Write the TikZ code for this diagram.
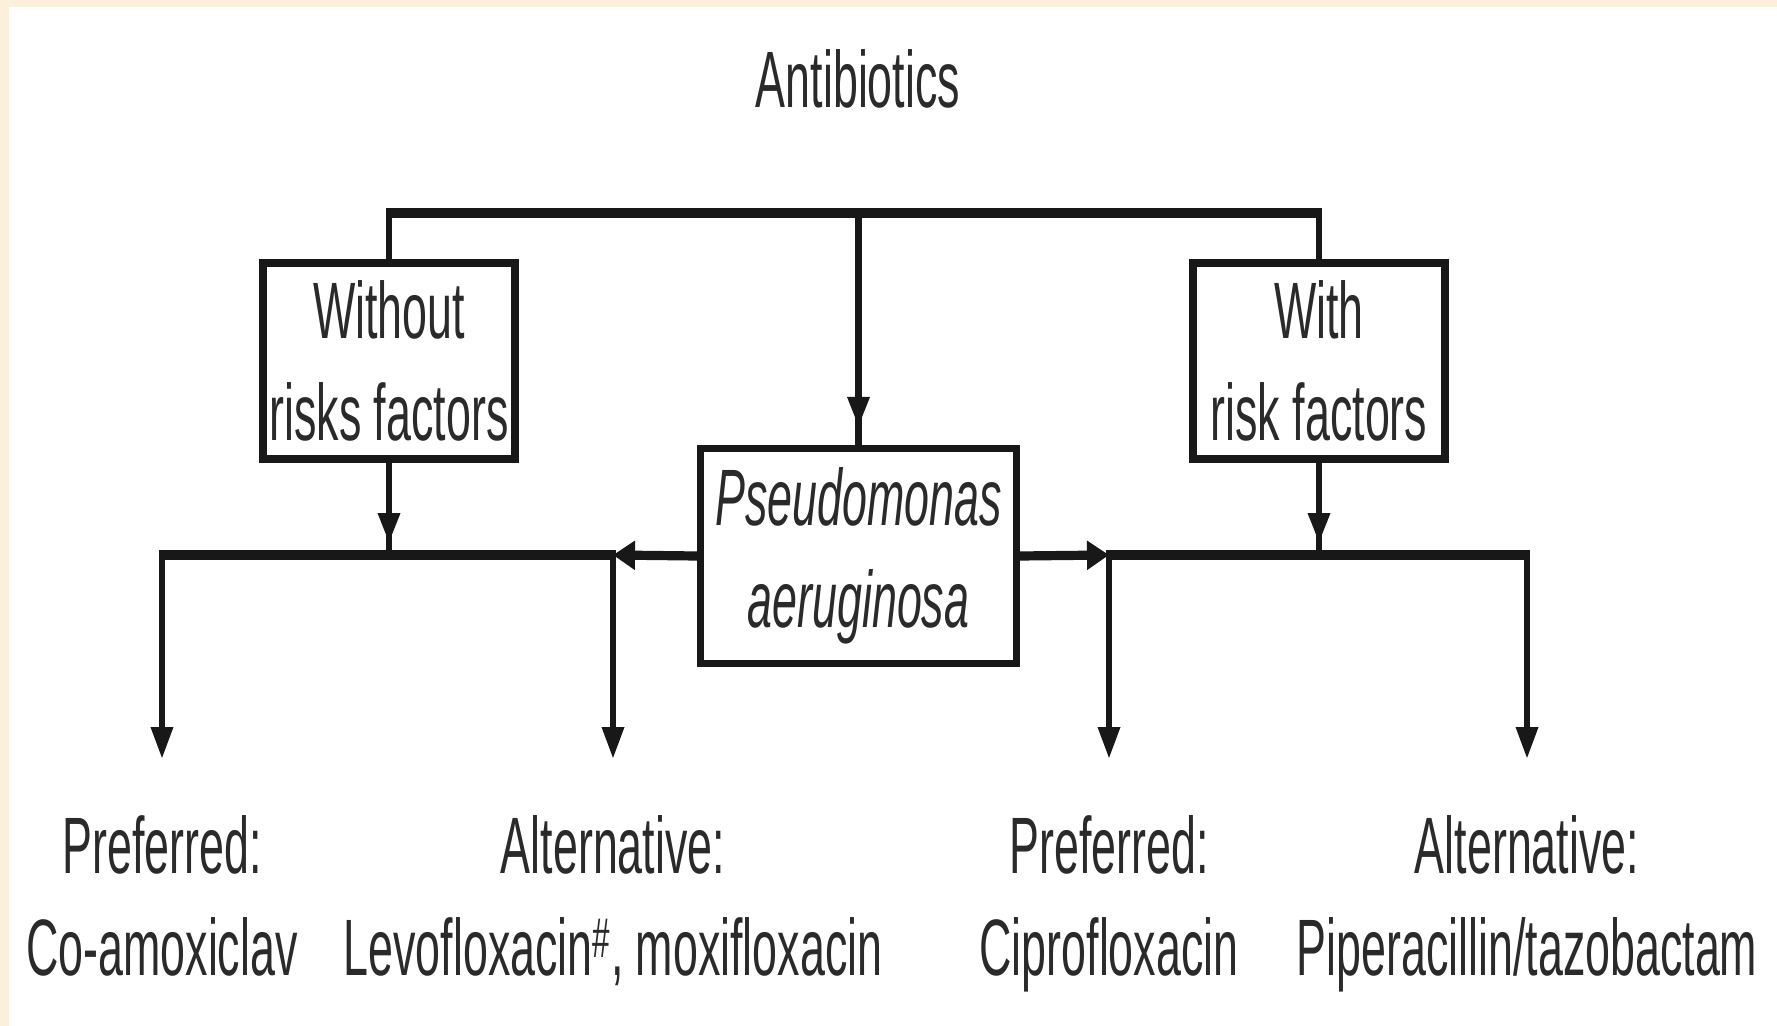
\documentclass[tikz,border=0pt]{standalone}
\usepackage{fontspec}
\setmainfont{Liberation Sans}[FakeStretch=0.56]
\usetikzlibrary{arrows.meta,decorations.markings}

\definecolor{inkline}{RGB}{24,24,24}
\definecolor{inktext}{RGB}{42,42,42}
\definecolor{paper}{RGB}{252,240,220}

\begin{document}
\begin{tikzpicture}[x=0.5pt,y=-0.5pt,
  every node/.style={text=inktext, font=\fontsize{40}{51}\selectfont, inner sep=0pt},
  box/.style={draw=inkline, line width=3.6pt, fill=white, align=center},
  label/.style={anchor=north, align=center},
  hline/.style={draw=inkline, line width=4.6pt, shorten <=-1.6pt, shorten >=-1.6pt},
  vline/.style={draw=inkline, line width=3.2pt},
  harrow/.style={draw=inkline, line width=4.6pt, -{Triangle[length=11pt,width=14pt]}},
  downtip/.style={-{Triangle[length=16pt,width=10.5pt]}, shorten >=28pt},
  tipbefore/.style={postaction={decorate},
    decoration={markings, mark=at position #1 with {\arrow{Triangle[length=15pt,width=10.5pt]}}}},
]
% page and white sheet
\fill[paper] (0,0) rectangle (1777,1026);
\fill[white] (9,7) rectangle (1777,1026);
\useasboundingbox (0,0) rectangle (1777,1026);

% title
\node[anchor=base] (title) at (858,108) {Antibiotics};

% boxes
\node[box, minimum width=126pt, minimum height=98pt] (wo) at (389,361) {Without\\risks factors};
\node[box, minimum width=126pt, minimum height=98pt] (wr) at (1319,361) {With\\risk factors};
\node[box, minimum width=158pt, minimum height=107.5pt,
      font=\fontsize{40}{51}\selectfont\itshape] (pa) at (858.5,556) {Pseudomonas\\aeruginosa};

% outcome labels
\node[label] (p1) at (162,815) {Preferred:\\Co-amoxiclav};
\node[label] (a1) at (613,815) {Alternative:\\Levofloxacin\textsuperscript{\#}, moxifloxacin};
\node[label] (p2) at (1109,815) {Preferred:\\Ciprofloxacin};
\node[label] (a2) at (1527,815) {Alternative:\\Piperacillin/tazobactam};

% branch points
\coordinate (tl) at (389,213);
\coordinate (tm) at (858.5,213);
\coordinate (tr) at (1319,213);
\coordinate (jl) at (389,555);
\coordinate (jr) at (1319,555);
\coordinate (dl1) at (162,555);
\coordinate (dl2) at (613,555);
\coordinate (dr1) at (1109,555);
\coordinate (dr2) at (1527,555);

% upper bracket
\draw[hline] (tl) -- (tr);
\draw[vline] (tl) -- (wo.north);
\draw[vline] (tr) -- (wr.north);
\draw[vline, tipbefore=-9pt] (tm) -- (pa.north);

% boxes into the lower rails
\draw[vline, tipbefore=-6pt] (wo.south) -- (jl);
\draw[vline, tipbefore=-6pt] (wr.south) -- (jr);

% lower rails
\draw[hline] (dl1) -- (dl2);
\draw[harrow] (pa.west) -- (dl2);
\draw[harrow] (pa.east) -- (dr1);
\draw[hline] (dr1) -- (dr2);

% drops to the outcomes
\draw[vline, downtip] (dl1) -- (p1.north);
\draw[vline, downtip] (dl2) -- (a1.north);
\draw[vline, downtip] (dr1) -- (p2.north);
\draw[vline, downtip] (dr2) -- (a2.north);
\end{tikzpicture}
\end{document}
